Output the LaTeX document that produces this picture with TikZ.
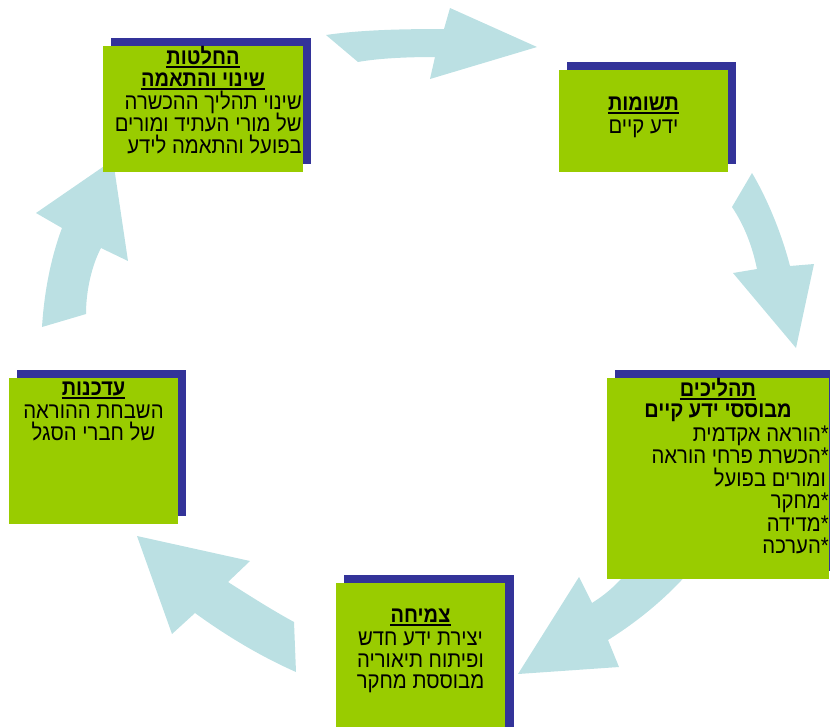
\documentclass[tikz,border=0pt]{standalone}
\usepackage{fontspec}
\newfontfamily\heb[Script=Hebrew]{Liberation Sans}
\TeXXeTstate=1
\definecolor{grn}{RGB}{153,204,0}
\definecolor{shd}{RGB}{51,51,153}
\definecolor{arr}{RGB}{187,224,227}
\begin{document}
\begin{tikzpicture}[x=1pt,y=-1pt,
  shadowbox/.style={fill=shd},
  greenbox/.style={fill=grn},
  bigarrow/.style={fill=arr},
  txt/.style={inner sep=0pt, text=black, yscale=1.12, transform shape, font=\heb\fontsize{20.3}{22}\selectfont},
  ttl/.style={inner sep=0pt, text=black, yscale=1.12, transform shape, font=\heb\bfseries\fontsize{20}{22}\selectfont},
  uline/.style={line width=1.8pt, black}]
\useasboundingbox (0,0) rectangle (830,726);
\clip (0,0) rectangle (830,726);

% block arrows
\fill[bigarrow] (326,35) .. controls (360,30) and (400,29) .. (444,29) -- (450,8) -- (537,47) -- (430,79) -- (435,57) .. controls (410,57) and (380,58) .. (358,62) -- cycle;
\fill[bigarrow] (752,173) .. controls (768,200) and (782,235) .. (790,266) -- (814,264) -- (796,348) -- (733,273) -- (757,269) .. controls (752,245) and (744,225) .. (732,207) -- cycle;
\fill[bigarrow] (695,565) .. controls (670,595) and (640,620) .. (608,640) -- (619,667) -- (518,674) -- (579,577) -- (592,603) .. controls (608,593) and (622,580) .. (632,565) -- cycle;
\fill[bigarrow] (137,536) -- (250,561) -- (228,582) .. controls (250,596) and (272,610) .. (294,622) -- (296,672) .. controls (262,657) and (228,637) .. (195,613) -- (172,634) -- cycle;
\fill[bigarrow] (42,327) -- (86,314) .. controls (86,290) and (92,265) .. (101,248) -- (128,261) -- (113,160) -- (36,213) -- (62,228) .. controls (50,260) and (44,295) .. (42,327) -- cycle;

% boxes
\fill[shadowbox] (111,38) rectangle (311,164);
\fill[greenbox] (103,46) rectangle (303,172);
\fill[shadowbox] (567,62) rectangle (736,164);
\fill[greenbox] (559,70) rectangle (728,172);
\fill[shadowbox] (615,370) rectangle (837,571);
\fill[greenbox] (607,378) rectangle (829,579);
\fill[shadowbox] (17,370) rectangle (186,516);
\fill[greenbox] (9,378) rectangle (178,524);
\fill[shadowbox] (344,575) rectangle (514,740);
\fill[greenbox] (336,583) rectangle (505,740);

% box 1
\node[ttl, anchor=base] (b1t1) at (203,64) {\beginR החלטות\endR};
\node[ttl, anchor=base] (b1t2) at (203,86) {\beginR שינוי והתאמה\endR};
\node[txt, anchor=base east] (b1l1) at (302,109) {\beginR שינוי תהליך ההכשרה\endR};
\node[txt, anchor=base east] (b1l2) at (302,131) {\beginR של מורי העתיד ומורים\endR};
\node[txt, anchor=base east] (b1l3) at (302,153) {\beginR בפועל והתאמה לידע\endR};
\draw[uline] ([yshift=-3pt]b1t1.base west) -- ([yshift=-3pt]b1t1.base east);
\draw[uline] ([yshift=-3pt]b1t2.base west) -- ([yshift=-3pt]b1t2.base east);

% box 2
\node[ttl, anchor=base] (b2t1) at (643.5,110) {\beginR תשומות\endR};
\node[txt, anchor=base] (b2l1) at (643.5,133) {\beginR ידע קיים\endR};
\draw[uline] ([yshift=-3pt]b2t1.base west) -- ([yshift=-3pt]b2t1.base east);

% box 3
\node[ttl, anchor=base] (b3t1) at (718,396) {\beginR תהליכים\endR};
\node[ttl, anchor=base] (b3t2) at (718,417) {\beginR מבוססי ידע קיים\endR};
\node[txt, anchor=base east] (b3l1) at (829,441) {\beginR *הוראה אקדמית\endR};
\node[txt, anchor=base east] (b3l2) at (829,463) {\beginR *הכשרת פרחי הוראה\endR};
\node[txt, anchor=base east] (b3l3) at (826,486) {\beginR ומורים בפועל\endR};
\node[txt, anchor=base east] (b3l4) at (829,508) {\beginR *מחקר\endR};
\node[txt, anchor=base east] (b3l5) at (829,531) {\beginR *מדידה\endR};
\node[txt, anchor=base east] (b3l6) at (829,553) {\beginR *הערכה\endR};
\draw[uline] ([yshift=-3pt]b3t1.base west) -- ([yshift=-3pt]b3t1.base east);

% box 4
\node[ttl, anchor=base] (b4t1) at (93.5,395) {\beginR עדכנות\endR};
\node[txt, anchor=base] (b4l1) at (93.5,418) {\beginR השבחת ההוראה\endR};
\node[txt, anchor=base] (b4l2) at (93.5,440) {\beginR של חברי הסגל\endR};
\draw[uline] ([yshift=-3pt]b4t1.base west) -- ([yshift=-3pt]b4t1.base east);

% box 5
\node[ttl, anchor=base] (b5t1) at (420.5,622) {\beginR צמיחה\endR};
\node[txt, anchor=base] (b5l1) at (420.5,645) {\beginR יצירת ידע חדש\endR};
\node[txt, anchor=base] (b5l2) at (420.5,667) {\beginR ופיתוח תיאוריה\endR};
\node[txt, anchor=base] (b5l3) at (420.5,688) {\beginR מבוססת מחקר\endR};
\draw[uline] ([yshift=-3pt]b5t1.base west) -- ([yshift=-3pt]b5t1.base east);
\end{tikzpicture}
\end{document}
